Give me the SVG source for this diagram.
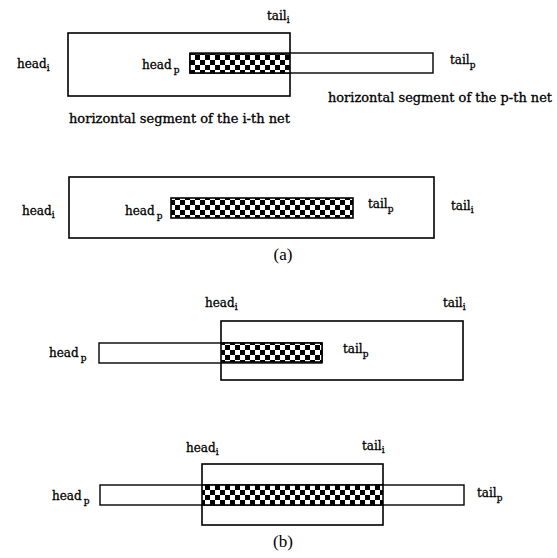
<svg xmlns="http://www.w3.org/2000/svg" width="557" height="558" viewBox="0 0 557 558">
<defs>
<pattern id="chk" patternUnits="userSpaceOnUse" x="0" y="0" width="10" height="10">
<rect width="10" height="10" fill="#fff"/>
<rect x="0" y="0" width="5" height="5" fill="#000"/>
<rect x="5" y="5" width="5" height="5" fill="#000"/>
</pattern>
<style>
.box{fill:#fff;stroke:#000;stroke-width:1.6}
.seg{fill:#fff;stroke:#000;stroke-width:1.4}
.chk{fill:url(#chk);stroke:#000;stroke-width:1.6}
.lbl{font-family:"DejaVu Serif","Liberation Serif",serif;font-size:12px;fill:#000;stroke:#000;stroke-width:0.3}
.sub{font-size:9px}
.cap{font-family:"Liberation Serif","DejaVu Serif",serif;font-size:17px;fill:#000}
</style>
</defs>
<rect width="557" height="558" fill="#fff"/>

<!-- Panel 1 -->
<g id="p1-net-i"><rect class="box" x="68" y="33" width="222" height="63"/></g>
<g id="p1-net-p"><rect class="seg" x="190" y="53" width="243" height="20"/></g>
<g id="p1-overlap"><rect class="chk" x="190" y="54" width="100" height="19"/></g>
<g id="p1-labels">
<text class="lbl" x="267" y="20">tail<tspan class="sub" dy="3">i</tspan></text>
<text class="lbl" x="17" y="68">head<tspan class="sub" dy="3">i</tspan></text>
<text class="lbl" x="142" y="69">head<tspan class="sub" dx="2" dy="4">p</tspan></text>
<text class="lbl" x="450" y="64">tail<tspan class="sub" dy="4">p</tspan></text>
<text class="lbl" x="328" y="102" textLength="224" lengthAdjust="spacingAndGlyphs">horizontal segment of the p-th net</text>
<text class="lbl" x="69" y="123" textLength="221" lengthAdjust="spacingAndGlyphs">horizontal segment of the i-th net</text>
</g>

<!-- Panel 2 -->
<g id="p2-net-i"><rect class="box" x="69" y="177" width="365" height="61"/></g>
<g id="p2-overlap"><rect class="chk" x="171" y="198" width="182" height="20"/></g>
<g id="p2-labels">
<text class="lbl" x="22" y="215">head<tspan class="sub" dy="3">i</tspan></text>
<text class="lbl" x="125" y="215">head<tspan class="sub" dx="2" dy="4">p</tspan></text>
<text class="lbl" x="368" y="208">tail<tspan class="sub" dy="4">p</tspan></text>
<text class="lbl" x="451" y="210">tail<tspan class="sub" dy="3">i</tspan></text>
<text class="cap" x="283" y="260" text-anchor="middle">(a)</text>
</g>

<!-- Panel 3 -->
<g id="p3-net-i"><rect class="box" x="221" y="321" width="242" height="59"/></g>
<g id="p3-net-p"><rect class="seg" x="99" y="343" width="223" height="20"/></g>
<g id="p3-overlap"><rect class="chk" x="221" y="343" width="101" height="19"/></g>
<g id="p3-labels">
<text class="lbl" x="49" y="357">head<tspan class="sub" dx="2" dy="4">p</tspan></text>
<text class="lbl" x="205" y="307">head<tspan class="sub" dy="3">i</tspan></text>
<text class="lbl" x="443" y="307">tail<tspan class="sub" dy="3">i</tspan></text>
<text class="lbl" x="343" y="353">tail<tspan class="sub" dy="4">p</tspan></text>
</g>

<!-- Panel 4 -->
<g id="p4-net-i"><rect class="box" x="202" y="464" width="181" height="61"/></g>
<g id="p4-net-p"><rect class="seg" x="100" y="485" width="364" height="20"/></g>
<g id="p4-overlap"><rect class="chk" x="202" y="485" width="181" height="20"/></g>
<g id="p4-labels">
<text class="lbl" x="52" y="500">head<tspan class="sub" dx="2" dy="4">p</tspan></text>
<text class="lbl" x="477" y="497">tail<tspan class="sub" dy="4">p</tspan></text>
<text class="lbl" x="186" y="452">head<tspan class="sub" dy="3">i</tspan></text>
<text class="lbl" x="362" y="450">tail<tspan class="sub" dy="3">i</tspan></text>
<text class="cap" x="283" y="547" text-anchor="middle">(b)</text>
</g>
</svg>
